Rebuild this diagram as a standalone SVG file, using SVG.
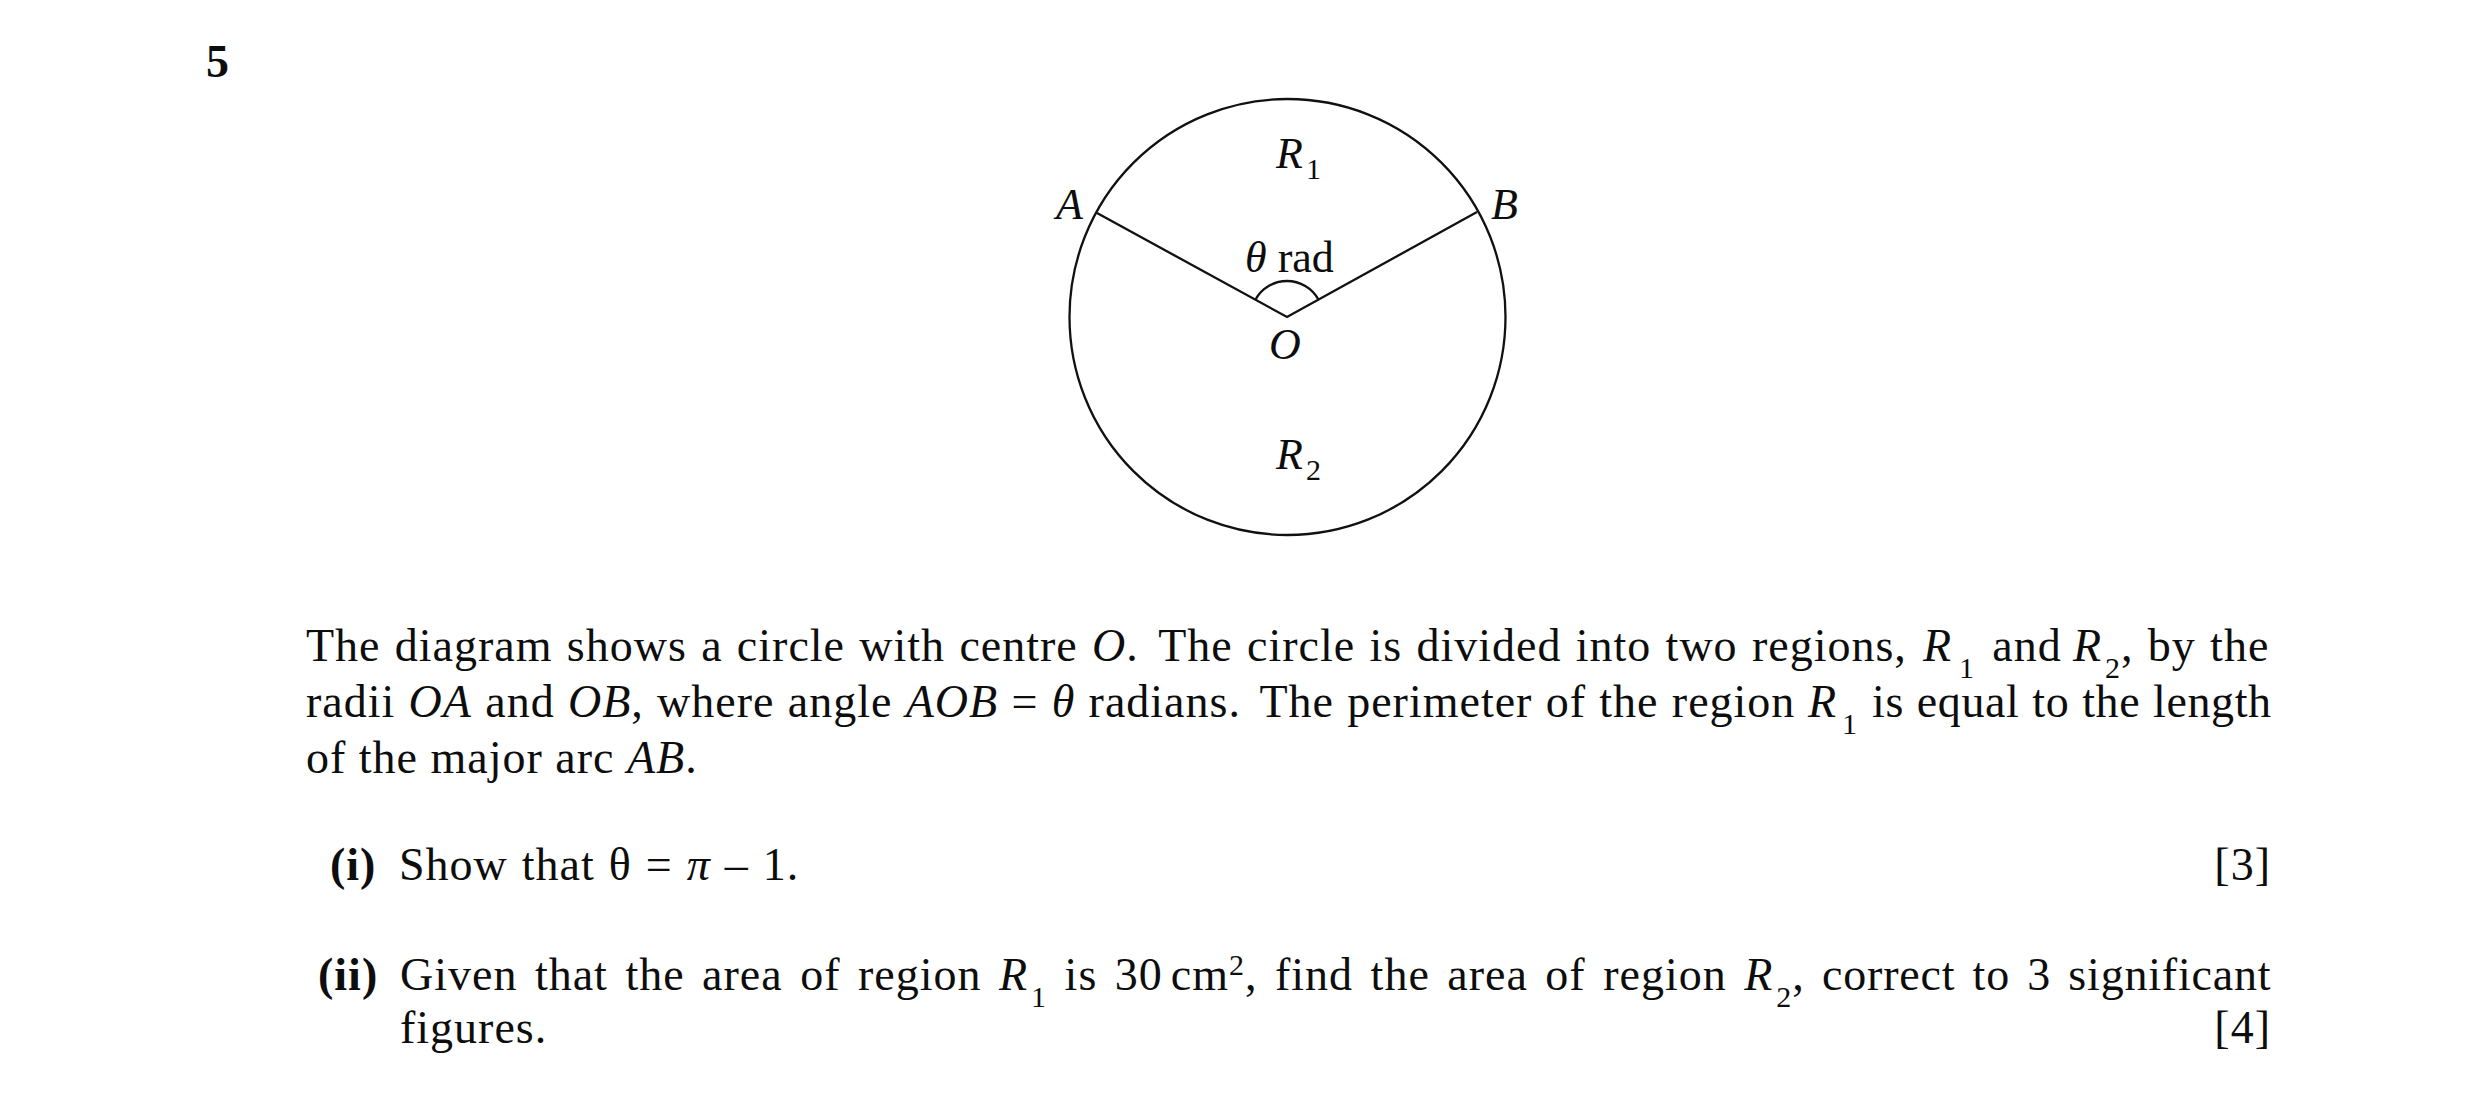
<svg xmlns="http://www.w3.org/2000/svg" width="2480" height="1110" viewBox="0 0 2480 1110">
<style>
.t{font-family:"Liberation Serif","Times New Roman",serif;font-size:46px;letter-spacing:1px;fill:#0d0d0d}
.i{font-style:italic}
.b{font-weight:bold}
.sub{font-size:30px}
.lbl{font-family:"Liberation Serif","Times New Roman",serif;font-size:44px;fill:#0d0d0d}
.lsub{font-size:30px}
.ln{fill:none;stroke:#111;stroke-width:2.3}
</style>
<rect width="2480" height="1110" fill="#fff"/>
<text id="qnum" class="t b" x="206" y="77" font-size="44">5</text>
<g id="figure">
  <g id="circle-node"><circle class="ln" cx="1287.5" cy="317" r="218"/></g>
  <g id="connectors">
    <polyline class="ln" points="1097,213 1287,317 1477,212" stroke-linejoin="miter"/>
    <path class="ln" stroke-width="1.7" d="M1255.4,299.7 A36,36 0 0 1 1318.5,299.6"/>
  </g>
  <g id="label-R1"><text class="lbl i" x="1276" y="168">R<tspan class="lsub" font-style="normal" x="1306" y="179">1</tspan></text></g>
  <g id="label-A"><text class="lbl i" x="1056" y="219">A</text></g>
  <g id="label-B"><text class="lbl i" x="1491" y="219">B</text></g>
  <g id="label-theta"><text class="lbl" x="1245" y="272"><tspan class="i">θ</tspan> rad</text></g>
  <g id="label-O"><text class="lbl i" x="1269" y="359">O</text></g>
  <g id="label-R2"><text class="lbl i" x="1276" y="469">R<tspan class="lsub" font-style="normal" x="1306" y="480">2</tspan></text></g>
</g>
<g id="question-text">
  <text class="t" x="306" y="661" word-spacing="1.8">The diagram shows a circle with centre <tspan class="i">O</tspan>. <tspan dx="6">The circle is divided into two regions, </tspan><tspan class="i" x="1923">R</tspan><tspan class="sub" x="1959" dy="17">1</tspan><tspan x="1978" dy="-17"> and </tspan><tspan class="i" x="2073">R</tspan><tspan class="sub" x="2105" dy="17">2</tspan><tspan dy="-17">, by the</tspan></text>
  <text class="t" x="306" y="717" word-spacing="0.8">radii <tspan class="i">OA</tspan> and <tspan class="i">OB</tspan>, where angle <tspan class="i">AOB</tspan> = <tspan class="i">θ</tspan> radians. <tspan dx="6">The perimeter of the region </tspan><tspan class="i" x="1808">R</tspan><tspan class="sub" x="1842" dy="17">1</tspan><tspan x="1872" dy="-17" letter-spacing="0.6">is equal to the length</tspan></text>
  <text class="t" x="306" y="773">of the major arc <tspan class="i">AB</tspan>.</text>
  <text class="t" y="880" word-spacing="1.5"><tspan class="b" x="330">(i)</tspan><tspan x="399">Show that θ = <tspan class="i">π</tspan> – 1.</tspan></text>
  <text class="t" x="2271" y="880" text-anchor="end">[3]</text>
  <text class="t" y="990" word-spacing="5"><tspan class="b" x="318">(ii)</tspan><tspan x="400">Given that the area of region </tspan><tspan class="i">R</tspan><tspan class="sub" dx="3" dy="17">1</tspan><tspan dy="-17"> is 30</tspan><tspan dx="8">cm</tspan><tspan class="sub" dy="-15">2</tspan><tspan dy="15">, find the area of region </tspan><tspan class="i">R</tspan><tspan class="sub" dx="3" dy="17">2</tspan><tspan dy="-17">, </tspan><tspan x="1822" letter-spacing="0.8">correct to 3 significant</tspan></text>
  <text class="t" x="400" y="1043">figures.</text>
  <text class="t" x="2271" y="1043" text-anchor="end">[4]</text>
</g>
</svg>
